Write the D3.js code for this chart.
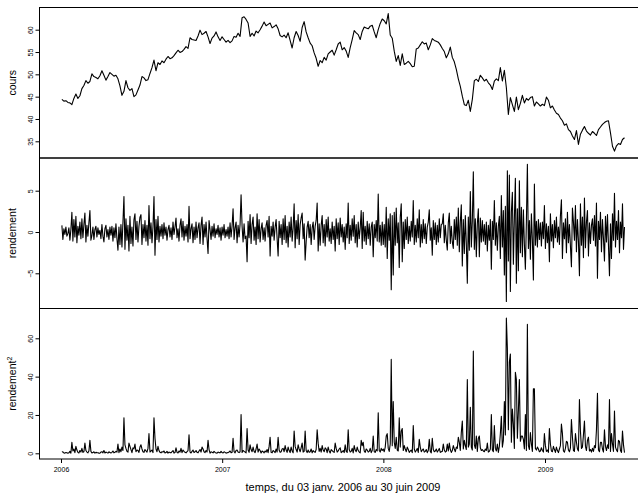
<!DOCTYPE html>
<html>
<head>
<meta charset="utf-8">
<script src="https://cdn.jsdelivr.net/npm/d3@7"></script>
<style>
  body { margin: 0; background: #fff; }
  svg { display: block; font-family: "Liberation Sans", Arial, sans-serif; }
</style>
</head>
<body>
<svg id="chart" width="638" height="501"></svg>
<script>
// ---------- DATA ----------
const startDate = new Date(2006, 0, 3);
const endDate = new Date(2009, 5, 30);

// Cours (price), evenly spaced samples from 03 Jan 2006 to 30 Jun 2009
const cours = [
  44.4, 44.0, 44.1, 43.7, 43.6, 43.2, 44.6, 45.6, 44.6, 45.2,
  46.8, 47.5, 48.6, 48.0, 48.4, 50.1, 49.5, 49.3, 49.0, 49.7,
  50.8, 49.8, 48.7, 49.5, 50.4, 50.0, 49.6, 49.8, 49.0, 47.4,
  45.3, 46.2, 48.6, 47.0, 46.4, 46.8, 45.0, 45.4, 46.5, 47.6,
  49.5, 49.2, 48.6, 48.8, 50.2, 51.5, 53.2, 50.8, 52.6, 52.2,
  53.0, 52.6, 53.4, 54.0, 53.5, 53.7, 54.2, 54.8, 55.4, 54.9,
  55.1, 55.6, 56.2, 55.8, 58.2, 57.8, 57.7, 57.6, 58.6, 59.9,
  58.9, 59.2, 59.6, 58.4, 56.9, 58.1, 58.6, 59.5, 58.4, 57.6,
  58.4, 57.8, 57.2, 57.6, 57.1, 57.5, 58.5, 58.3, 59.2, 58.5,
  62.7, 62.9, 62.3, 61.5, 58.5, 59.2, 58.6, 59.7, 59.3, 60.0,
  60.8, 61.7, 60.9, 61.2, 61.5, 60.4, 60.7, 61.1, 60.2, 58.7,
  58.4, 58.8, 58.2, 59.3, 57.6, 55.9, 58.2, 59.6, 58.7, 57.4,
  60.5, 61.8, 59.5, 58.2, 57.0, 56.4, 54.8, 53.6, 51.8, 53.1,
  52.6, 53.8, 53.2, 54.6, 55.0, 55.4, 54.3, 55.5, 56.8, 57.2,
  55.5, 56.0, 55.2, 53.8, 56.0, 57.8, 59.8, 59.3, 58.9, 57.8,
  59.6, 60.6, 60.4, 60.2, 60.8, 61.0, 59.5, 58.2, 60.0, 61.4,
  62.4, 62.0, 61.3, 63.6, 58.8, 58.1, 55.2, 52.9, 54.2, 52.0,
  54.6, 52.2, 52.5, 52.9, 52.4, 51.7, 51.8, 55.7, 55.9, 56.6,
  57.3, 56.8, 57.0, 55.5, 56.6, 58.0, 57.6, 57.4, 57.2, 56.6,
  55.8, 55.1, 53.7, 54.6, 56.1, 53.8, 52.8, 51.1, 49.0, 47.3,
  45.1, 43.2, 43.0, 44.2, 41.7, 44.4, 48.6, 48.9, 48.4, 49.8,
  49.2, 48.5, 48.9, 48.1, 47.6, 46.6, 48.5, 49.0, 48.6, 51.5,
  48.5, 50.9, 47.0, 41.0, 44.8, 43.2, 41.7, 44.9, 42.1, 43.5,
  45.3, 43.6, 44.6, 44.2, 44.8, 45.0, 42.9, 43.8, 43.4, 42.9,
  43.3, 43.0, 44.9, 44.2, 42.5, 42.9, 42.0, 41.3, 41.0, 40.2,
  39.6, 38.6, 38.9, 37.6, 37.2, 36.2, 35.4, 37.4, 34.3, 36.6,
  37.5, 38.3, 37.3, 36.8, 36.4, 37.2, 36.8, 36.3, 37.6, 38.2,
  38.8, 39.2, 39.5, 39.6, 36.9, 33.9, 32.8, 34.0, 34.5, 34.3,
  35.4, 35.8
];

// Rendement (daily return, %), evenly spaced over the same period
const rendement = [
  0.8, -0.9, 0.4, -0.3, 0.6, -0.5, -0.2, 0.5, -1.0, 0.3, 2.4, -1.1, 1.5, -0.6, 1.9, -1.3, 0.7, -0.4, 1.2, -0.8,
  1.6, -0.7, 0.9, 2.3, -1.2, 0.8, -0.5, 1.1, 2.6, -1.0, -0.4, 0.6, -0.9, 0.3, 0.7, -0.6, 0.5, -0.3, 0.2, -0.8,
  0.9, -0.5, -1.2, 0.4, 0.8, -0.6, 0.3, -0.9, 0.6, -0.4, 0.7, -1.1, 0.5, -0.7, 1.0, -0.8, -2.2, 0.6, -1.5, 0.9,
  -1.8, 1.2, 4.3, -2.1, 1.6, -1.0, 0.8, -2.3, 1.9, -1.4, 0.6, -1.7, 1.5, 2.2, -0.9, 1.3, -1.2, 0.7, 1.8, 2.1,
  -1.5, 0.9, -0.7, 1.4, -1.1, 0.8, -1.6, 3.2, -0.8, 1.1, -1.3, 0.6, 4.3, -2.8, 1.5, -0.9, 1.9, -1.2, 0.7, -0.5,
  0.9, -0.8, 1.1, -0.4, 0.6, -1.0, 0.3, 0.8, -0.6, 0.5, -0.9, 1.2, -0.3, 0.6, 1.7, -0.7, 0.4, -1.1, 0.8, 1.6,
  -0.6, 1.3, -1.0, 0.7, -0.5, 0.9, -1.2, 3.1, -0.8, 0.4, 1.0, -1.3, 0.6, -0.9, 1.2, -0.7, 0.5, 1.1, -1.4, 0.8,
  1.8, -1.5, 0.9, -0.6, 1.2, -0.8, -2.6, 1.4, 0.3, -0.9, 0.7, -0.5, 1.0, -0.7, 0.4, -0.3, 0.8, -0.6, 0.5, -1.0,
  0.6, -0.4, 0.9, -0.7, 0.3, -0.5, 0.6, -0.8, 1.1, -0.6, 0.7, 2.8, -0.9, 0.5, 1.2, -1.3, 0.8, -0.6, 0.9, 4.5,
  0.7, -1.2, 1.0, -0.8, -0.5, -3.6, 1.3, -0.7, 2.1, -1.4, 0.9, 1.8, -1.0, 0.6, -1.5, 2.2, -0.8, 1.5, -1.2, 0.4,
  1.1, -0.9, 0.5, -1.1, 0.8, 1.4, -0.6, 1.9, -2.9, 0.7, -0.5, 1.2, -1.0, 0.6, 1.5, -0.8, -2.9, 1.3, -0.7, 0.9,
  -1.5, 1.6, -0.9, 2.0, -1.3, 0.7, -1.8, 1.2, -0.6, 1.8, -1.1, 0.5, 3.4, -1.9, 1.4, -0.8, 2.1, -1.5, 0.9, 1.7,
  2.3, -0.8, 1.0, -3.4, -1.2, 0.6, 1.3, -0.7, 0.9, -1.5, 0.5, 1.2, -0.9, 0.7, 1.4, 3.5, -2.3, 1.0, -1.6, 0.8,
  2.0, -1.3, 0.9, -1.7, 1.5, -0.6, 1.8, -1.1, 0.4, -1.4, 1.2, -0.9, 0.7, -2.3, 1.6, -0.8, 1.1, -1.5, 1.7, -0.6,
  0.9, -1.2, 0.6, -2.1, 1.0, -0.7, 3.5, -1.4, 0.8, -1.0, 1.6, -0.5, 2.0, -1.3, 0.9, -1.8, 1.2, -0.8, 0.5, 2.6,
  -2.0, 2.4, -1.1, 0.7, -1.5, 1.3, -0.8, 1.0, -1.6, 0.6, 1.2, -3.0, 0.9, -0.7, 1.4, -1.1, 4.6, -1.2, 0.8, -1.6,
  1.2, -1.5, 0.9, -1.8, 3.0, -3.2, 1.6, -1.0, 2.2, -7.0, 2.0, -5.2, 2.4, -1.6, 2.9, -1.3, 1.1, -4.3, 1.8, 3.4,
  -3.6, 1.2, -2.0, 1.5, -0.9, 1.8, -1.4, 0.7, -1.1, 1.3, -0.6, 3.8, -1.5, 0.8, -1.2, 1.6, -0.7, 2.7, -1.8, 0.9,
  -1.3, 1.5, -0.8, 1.0, -1.4, 0.6, 1.2, 2.7, -1.0, 0.5, -2.8, 1.4, -0.9, 1.1, -1.5, 0.8, -1.2, 1.6, -0.7, 0.9,
  1.0, 2.2, -1.3, 0.8, -1.0, -2.2, 1.1, 2.3, -1.4, 0.7, -1.2, -2.0, 1.5, -0.9, 1.8, -1.6, 2.9, -2.4, 1.2, 3.3,
  -4.1, 1.5, -2.6, 2.0, -1.4, -6.2, 1.8, -2.2, 4.9, -1.8, 1.3, 7.3, -2.1, 1.6, -3.0, 1.0, 2.8, -3.0, 1.7, -1.2,
  1.4, -1.1, 0.9, -1.5, 1.2, -2.3, 0.8, -1.0, 1.5, -4.5, 1.3, -0.9, 3.8, -1.6, 1.1, -2.2, 0.7, 1.9, -3.2, 4.4,
  -1.8, 2.6, -5.2, 3.1, -8.4, 7.4, -3.5, 6.9, -7.2, 2.4, 4.8, -3.9, 1.6, 6.5, -6.2, 2.8, -4.7, 6.2, -2.5, 3.0,
  -3.0, 2.7, -1.5, -4.5, 1.2, 8.2, -2.0, 1.4, -3.3, 2.2, -1.0, -5.8, 5.8, -1.6, 1.3, -1.8, 1.5, -0.9, 1.1, -1.7,
  1.2, -0.8, 3.2, -2.0, 1.0, -1.3, 0.7, -3.6, 2.2, -1.1, 0.9, -1.9, 1.4, -0.7, 1.8, -1.2, 0.6, -1.5, 2.0, 3.9,
  -3.2, 1.1, -0.8, 1.6, -2.5, 2.4, -1.3, 0.9, -1.7, -4.2, 2.9, 1.2, -1.0, 3.2, -2.4, 1.5, -1.1, -5.3, 3.4, -1.6,
  1.8, -3.1, 4.1, -1.9, 1.2, 2.6, -2.9, 1.1, -1.4, 0.8, 1.6, -1.0, 2.0, -1.7, 3.5, -5.6, 1.3, -0.9, 2.4, -2.4,
  1.5, -0.8, -3.5, 1.9, -1.2, 2.1, -1.6, -5.3, 1.0, -3.2, 2.2, -1.0, 4.7, -1.8, 1.3, -0.9, 2.6, -2.5, 1.2, -0.7,
  3.4, -2.1, 0.6
];

const coursTicks = [35, 40, 45, 50, 55, 60];
const rendTicks = [-5, 0, 5];
const sqTicks = [0, 20, 40, 60];
const yearTicks = [2006, 2007, 2008, 2009];
const xTitle = "temps, du 03 janv. 2006 au 30 juin 2009";

// ---------- LAYOUT ----------
const svg = d3.select("#chart");
const left = 39.5;
const rightEdge = 700;
const panels = [
  { top: 7.5, bottom: 158 },
  { top: 158, bottom: 308.5 },
  { top: 308.5, bottom: 459 }
];

const x = d3.scaleTime()
  .domain([new Date(2006, 0, 1), new Date(2009, 0, 1)])
  .range([61, 545]);

function datesFor(n) {
  const s = +startDate, e = +endDate;
  return d3.range(n).map(i => new Date(s + i * (e - s) / (n - 1)));
}

const yC = d3.scaleLinear().domain([35, 60]).range([141.3, 29.7]);
const yR = d3.scaleLinear().domain([-5, 5]).range([273.3, 190.7]);
const yS = d3.scaleLinear().domain([0, 60]).range([453.3, 338.3]);

const carre = rendement.map(r => r * r);

const series = [
  { values: cours, y: yC, ticks: coursTicks, label: "cours" },
  { values: rendement, y: yR, ticks: rendTicks, label: "rendement" },
  { values: carre, y: yS, ticks: sqTicks, label: "rendement", sup: "2" }
];

const defs = svg.append("defs");

series.forEach((s, k) => {
  const p = panels[k];
  const dates = datesFor(s.values.length);
  defs.append("clipPath").attr("id", "clip" + k)
    .append("rect")
    .attr("x", left).attr("y", p.top)
    .attr("width", rightEdge - left).attr("height", p.bottom - p.top);

  const line = d3.line()
    .x((d, i) => x(dates[i]))
    .y(d => s.y(d));

  svg.append("path")
    .datum(s.values)
    .attr("clip-path", "url(#clip" + k + ")")
    .attr("fill", "none")
    .attr("stroke", "#000")
    .attr("stroke-width", 1.1)
    .attr("stroke-linejoin", "round")
    .attr("d", line);

  svg.append("rect")
    .attr("x", left).attr("y", p.top)
    .attr("width", rightEdge - left).attr("height", p.bottom - p.top)
    .attr("fill", "none").attr("stroke", "#000").attr("stroke-width", 1);

  const ax = svg.append("g")
    .attr("transform", `translate(${left},0)`)
    .call(d3.axisLeft(s.y).tickValues(s.ticks).tickSize(4).tickFormat(d3.format("d")));
  ax.select(".domain").remove();
  ax.selectAll("line").attr("stroke", "#000");
  ax.selectAll("text")
    .attr("transform", "rotate(-90)")
    .attr("x", 0).attr("y", -7).attr("dy", 0)
    .attr("text-anchor", "middle")
    .attr("font-size", 7)
    .attr("font-family", "Liberation Sans, Arial, sans-serif")
    .attr("fill", "#000");

  const cy = (p.top + p.bottom) / 2;
  const t = svg.append("text")
    .attr("transform", `translate(16,${cy}) rotate(-90)`)
    .attr("text-anchor", "middle")
    .attr("font-size", 10.5)
    .attr("fill", "#000")
    .text(s.label);
  if (s.sup) {
    t.append("tspan")
      .attr("font-size", 7)
      .attr("dy", -4)
      .text(s.sup);
  }
});

const xa = svg.append("g")
  .attr("transform", `translate(0,${panels[2].bottom})`)
  .call(d3.axisBottom(x)
    .tickValues(yearTicks.map(yr => new Date(yr, 0, 1)))
    .tickFormat(d3.timeFormat("%Y"))
    .tickSize(4)
    .tickPadding(4));
xa.select(".domain").remove();
xa.selectAll("line").attr("stroke", "#000");
xa.selectAll("text")
  .attr("font-size", 7)
  .attr("font-family", "Liberation Sans, Arial, sans-serif")
  .attr("fill", "#000");

svg.append("text")
  .attr("x", 343)
  .attr("y", 491)
  .attr("text-anchor", "middle")
  .attr("font-size", 11)
  .attr("fill", "#000")
  .text(xTitle);
</script>
</body>
</html>
